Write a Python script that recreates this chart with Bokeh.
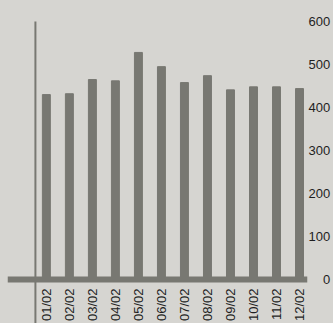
import math
from bokeh.plotting import figure
from bokeh.models import Range1d, LinearAxis, FixedTicker, Span, ColumnDataSource
from bokeh.core.properties import value
from bokeh.embed import file_html
from bokeh.resources import INLINE

months = ["01/02", "02/02", "03/02", "04/02", "05/02", "06/02",
          "07/02", "08/02", "09/02", "10/02", "11/02", "12/02"]
values = [430, 432, 465, 462, 528, 495, 458, 474, 441, 448, 448, 444]
y_ticks = [0, 100, 200, 300, 400, 500, 600]

BG = "#d6d5d1"
BAR = "#787872"

idx = list(range(len(months)))
src = ColumnDataSource(dict(x=idx, top=values, label=months))

p = figure(width=333, height=323, output_backend="svg", toolbar_location=None,
           x_range=Range1d(-1.689, 11.347), y_range=Range1d(-102.3, 648.8),
           x_axis_location=None, y_axis_location=None,
           min_border_left=7, min_border_right=0, min_border_top=0, min_border_bottom=0)
p.background_fill_color = BG
p.border_fill_color = BG
p.outline_line_color = None
p.grid.visible = False
p.styles = {"background-color": BG}

p.vbar(x="x", top="top", bottom=0, width=0.346, source=src, color=BAR)

p.add_layout(Span(location=0, dimension="width", line_color=BAR, line_width=6))
p.segment(x0=[-0.476], y0=[600], x1=[-0.476], y1=[-110], line_color=BAR, line_width=2)

p.text(x="x", y=-21, text="label", source=src, angle=math.pi / 2,
       text_align="right", text_baseline="middle", text_font=value("Liberation Sans"),
       text_font_size="13px", text_color="#1e1e1e")

# right-align the tick labels using figure spaces (same width as a digit)
width = max(len(str(t)) for t in y_ticks)
overrides = {t: "\u2007" * (width - len(str(t))) + str(t) for t in y_ticks}

ax = LinearAxis(ticker=FixedTicker(ticks=y_ticks), major_label_overrides=overrides)
ax.axis_line_color = None
ax.major_tick_line_color = None
ax.minor_tick_line_color = None
ax.major_tick_out = 0
ax.major_tick_in = 0
ax.minor_tick_out = 0
ax.minor_tick_in = 0
ax.major_label_standoff = 1
ax.major_label_text_font = "Liberation Sans"
ax.major_label_text_font_size = "13px"
ax.major_label_text_color = "#1e1e1e"
p.add_layout(ax, "right")

open("out.html", "w").write(file_html(p, INLINE))
